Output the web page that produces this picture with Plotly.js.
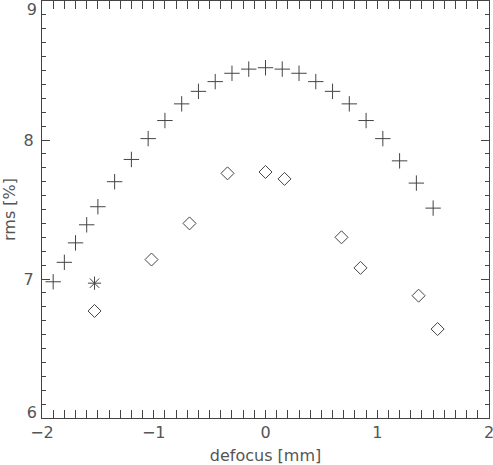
<!DOCTYPE html>
<html>
<head>
<meta charset="utf-8">
<script src="https://cdn.plot.ly/plotly-3.0.1.min.js"></script>
<style>
  html, body { margin: 0; padding: 0; background: #fff; }
  #plot { width: 493px; height: 465px; }
</style>
</head>
<body>
<div id="plot"></div>
<script>
// plus series: rms vs defocus
var plusX = [-1.9, -1.8, -1.7, -1.6, -1.5, -1.35, -1.2, -1.05, -0.9, -0.75, -0.6, -0.45, -0.3, -0.15,
             0, 0.15, 0.3, 0.45, 0.6, 0.75, 0.9, 1.05, 1.2, 1.35, 1.5];
var plusY = [6.98, 7.12, 7.26, 7.39, 7.52, 7.70, 7.86, 8.01, 8.14, 8.26, 8.35, 8.42, 8.48, 8.51,
             8.52, 8.51, 8.48, 8.42, 8.35, 8.26, 8.14, 8.01, 7.85, 7.69, 7.51];

// diamond series
var diamondX = [-1.53, -1.02, -0.68, -0.34, 0.0, 0.17, 0.68, 0.85, 1.37, 1.54];
var diamondY = [6.77, 7.14, 7.40, 7.76, 7.77, 7.72, 7.30, 7.08, 6.88, 6.64];

// single star point
var starX = [-1.53];
var starY = [6.97];

// tick labels
var xTicks = [-2, -1, 0, 1, 2];
var yTicksMid = [7, 8];
var yTickTop = [9];
var yTickBottom = [6];

var ink = '#444';
var labelFont = {family: 'DejaVu Sans, sans-serif', size: 16, color: '#555'};

var tracePlus = {
    x: plusX,
    y: plusY,
    mode: 'markers',
    type: 'scatter',
    marker: {symbol: 'cross-thin-open', size: 11, color: ink, line: {color: ink, width: 1}}
};
var traceDiamond = {
    x: diamondX,
    y: diamondY,
    mode: 'markers',
    type: 'scatter',
    marker: {symbol: 'diamond-open', size: 10, color: ink, line: {color: ink, width: 1}}
};
var traceStar = {
    x: starX,
    y: starY,
    mode: 'markers',
    type: 'scatter',
    marker: {symbol: 'asterisk-open', size: 11, color: ink, line: {color: ink, width: 1}}
};
// empty traces so the label-only axes get drawn
var holdTop = {x: [], y: [], type: 'scatter', mode: 'markers', yaxis: 'y2', hoverinfo: 'skip'};
var holdBottom = {x: [], y: [], type: 'scatter', mode: 'markers', yaxis: 'y3', hoverinfo: 'skip'};

// label-only overlay axis for the end ticks, which IDL nudges inside the frame
function endLabelAxis(vals, shift) {
    return {
        overlaying: 'y',
        anchor: 'x',
        side: 'left',
        range: [6, 9],
        autorange: false,
        tickmode: 'array',
        tickvals: vals,
        ticks: '',
        showline: false,
        showgrid: false,
        zeroline: false,
        showticklabels: true,
        tickfont: labelFont,
        ticklabelstandoff: 4,
        ticklabelshift: shift,
        ticklabeloverflow: 'allow'
    };
}

var layout = {
    width: 493,
    height: 465,
    margin: {l: 42, r: 4, t: 1, b: 47},
    paper_bgcolor: '#fff',
    plot_bgcolor: '#fff',
    showlegend: false,
    font: labelFont,
    xaxis: {
        range: [-2, 2],
        tickvals: xTicks,
        ticks: 'inside',
        ticklen: 8,
        tickcolor: ink,
        showline: true,
        linecolor: ink,
        linewidth: 1,
        mirror: 'allticks',
        showgrid: false,
        zeroline: false,
        tickfont: labelFont,
        ticklabeloverflow: 'allow',
        minor: {dtick: 0.1, ticks: 'inside', ticklen: 4, tickcolor: ink, showgrid: false},
        title: {text: 'defocus [mm]', font: labelFont, standoff: 10}
    },
    yaxis: {
        range: [6, 9],
        tickvals: [6, 7, 8, 9],
        ticktext: ['', '7', '8', ''],
        ticks: 'inside',
        ticklen: 8,
        tickcolor: ink,
        showline: true,
        linecolor: ink,
        linewidth: 1,
        mirror: 'allticks',
        showgrid: false,
        zeroline: false,
        tickfont: labelFont,
        ticklabelstandoff: 4,
        ticklabeloverflow: 'allow',
        minor: {dtick: 0.1, ticks: 'inside', ticklen: 4, tickcolor: ink, showgrid: false},
        title: {text: 'rms [%]', font: labelFont, standoff: 6}
    },
    yaxis2: endLabelAxis(yTickTop, 8),
    yaxis3: endLabelAxis(yTickBottom, -6)
};

Plotly.newPlot('plot', [tracePlus, traceDiamond, traceStar, holdTop, holdBottom], layout,
    {displayModeBar: false, staticPlot: true});
</script>
</body>
</html>
